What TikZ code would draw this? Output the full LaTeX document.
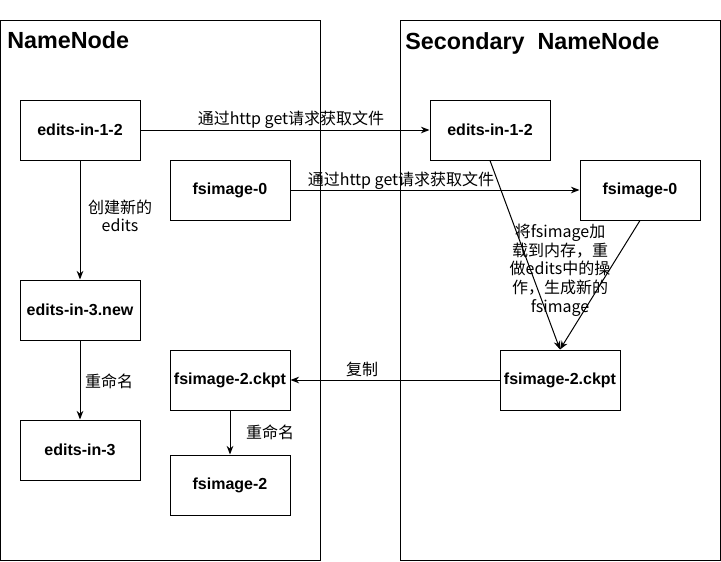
\documentclass[tikz,border=0pt]{standalone}
\usepackage{fontspec}
\setmainfont{Liberation Sans}
\newfontfamily\cjk{Noto Sans CJK SC}
\usetikzlibrary{arrows.meta}

\begin{document}
\begin{tikzpicture}[x=0.75pt,y=-0.75pt,
  host/.style={draw,line width=0.75pt,minimum width=240pt,minimum height=405pt,inner sep=0pt},
  file/.style={draw,line width=0.75pt,fill=white,minimum width=90pt,minimum height=45pt,inner sep=0pt,font=\bfseries\fontsize{12}{14}\selectfont},
  title/.style={anchor=west,inner sep=0pt,font=\bfseries\fontsize{17.5}{20}\selectfont},
  flow/.style={-{Stealth[length=6.5pt,width=5pt]},line width=0.75pt},
  note/.style={inner sep=0pt,align=center,font=\cjk\fontsize{12}{14}\selectfont}]
\useasboundingbox (0,0) rectangle (721,561);

% the two machines
\node[host] (nn) at (160,290) {};
\node[host] (snn) at (560,290) {};
\node[title] (nntitle) at (7,40) {NameNode};
\node[title] (snntitle) at (405,43) {Secondary\ \ NameNode};

% NameNode files
\node[file] (edits12) at (80,130) {edits-in-1-2};
\node[file] (fsimg0) at (230,190) {fsimage-0};
\node[file] (edits3new) at (80,310) {edits-in-3.new};
\node[file] (edits3) at (80,450) {edits-in-3};
\node[file] (ckpt) at (230,380) {fsimage-2.ckpt};
\node[file] (fsimg2) at (230,485) {fsimage-2};

% Secondary NameNode files
\node[file] (sedits12) at (490,130) {edits-in-1-2};
\node[file] (sfsimg0) at (640,190) {fsimage-0};
\node[file] (sckpt) at (560,380) {fsimage-2.ckpt};

% transfers
\draw[flow] (edits12.east) -- (sedits12.west);
\node[note] (get1) at (291,120) {通过http get请求获取文件};
\draw[flow] (fsimg0.east) -- (sfsimg0.west);
\node[note] (get2) at (401,181) {通过http get请求获取文件};

\draw[flow] (edits12.south) -- (edits3new.north);
\node[note] (newedits) at (120,216) {创建新的\\edits};
\draw[flow] (edits3new.south) -- (edits3.north);
\node[note] (rename1) at (109,381) {重命名};

\draw[flow] (sedits12.south) -- (sckpt.north);
\draw[flow] (sfsimg0.south) -- (sckpt.north);
\node[note] (merge) at (560,270) {将fsimage加\\载到内存，重\\做edits中的操\\作，生成新的\\fsimage};

\draw[flow] (sckpt.west) -- (ckpt.east);
\node[note] (copy) at (362,369) {复制};
\draw[flow] (ckpt.south) -- (fsimg2.north);
\node[note] (rename2) at (270,432) {重命名};
\end{tikzpicture}
\end{document}
